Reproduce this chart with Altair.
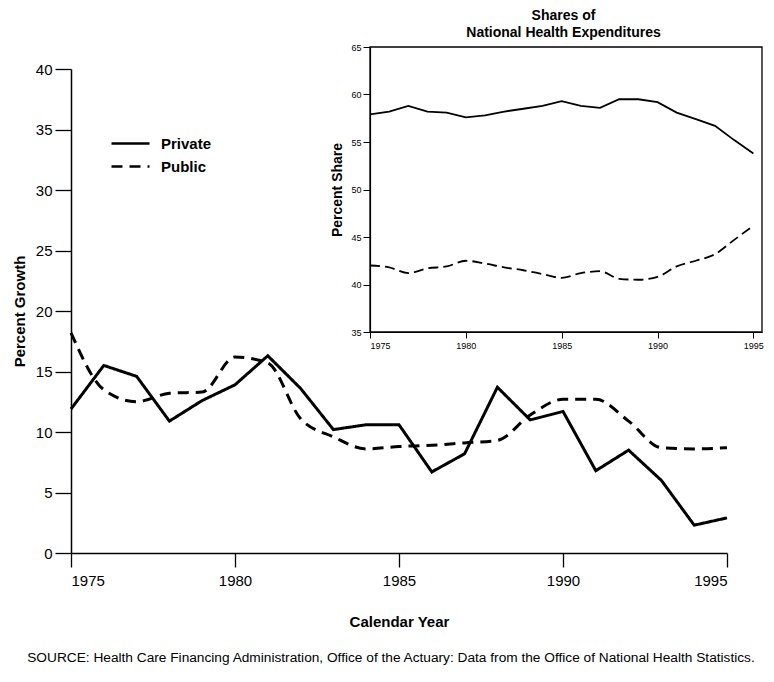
import altair as alt
import pandas as pd

years = [1975, 1976, 1977, 1978, 1979, 1980, 1981, 1982, 1983, 1984, 1985,
         1986, 1987, 1988, 1989, 1990, 1991, 1992, 1993, 1994, 1995]
private_growth = [11.9, 15.5, 14.6, 10.9, 12.6, 13.9, 16.3, 13.6, 10.2, 10.6, 10.6,
                  6.7, 8.2, 13.7, 11.0, 11.7, 6.8, 8.5, 6.0, 2.3, 2.9]
public_growth = [18.2, 13.5, 12.5, 13.2, 13.3, 16.2, 15.7, 11.1, 9.6, 8.6, 8.8,
                 8.9, 9.1, 9.3, 11.4, 12.7, 12.7, 10.9, 8.7, 8.6, 8.7]
private_share = [57.9, 58.2, 58.8, 58.2, 58.1, 57.6, 57.8, 58.2, 58.5, 58.8, 59.3,
                 58.8, 58.6, 59.5, 59.5, 59.2, 58.1, 57.4, 56.7, 55.2, 53.8]
public_share = [42.0, 41.8, 41.2, 41.7, 41.9, 42.5, 42.2, 41.8, 41.5, 41.1, 40.7,
                41.2, 41.4, 40.6, 40.5, 40.8, 41.9, 42.5, 43.2, 44.7, 46.2]
series = ["Private", "Public"]
year_ticks = [1975, 1980, 1985, 1990, 1995]
growth_ticks = [0, 5, 10, 15, 20, 25, 30, 35, 40]
share_ticks = [35, 40, 45, 50, 55, 60, 65]
inset_title = ["Shares of", "National Health Expenditures"]
source_note = ("SOURCE: Health Care Financing Administration, Office of the Actuary: "
               "Data from the Office of National Health Statistics.")

growth_df = pd.DataFrame({
    "year": years * 2,
    "growth": private_growth + public_growth,
    "series": [series[0]] * len(years) + [series[1]] * len(years),
})
share_df = pd.DataFrame({
    "year": years * 2,
    "share": private_share + public_share,
    "series": [series[0]] * len(years) + [series[1]] * len(years),
})
frame_df = pd.DataFrame({"x": [1975], "x2": [1995.45], "y": [35], "y2": [65]})

FONT = "Liberation Sans"
W, H = 691, 506

# ---- main chart scales / axes ----
mx = alt.Scale(domain=[1975, 1995], range=[0, 656], nice=False, zero=False)
my = alt.Scale(domain=[0, 40], range=[H, 22], nice=False)
dash_scale = alt.Scale(domain=series, range=[[1, 0], [11, 7]])

main_x_axis = alt.Axis(values=year_ticks, format="d", title="Calendar Year",
                       tickSize=14, labelPadding=6, labelFontSize=15,
                       titleFontSize=15, titleFontWeight="bold", titlePadding=26,
                       domainWidth=1.5, tickWidth=1.3, labelFont=FONT, titleFont=FONT,
                       domainColor="black", tickColor="black", labelColor="black",
                       titleColor="black", grid=False)
main_y_axis = alt.Axis(values=growth_ticks, title="Percent Growth",
                       tickSize=16, labelPadding=3, labelFontSize=15,
                       titleFontSize=15, titleFontWeight="bold", titlePadding=8,
                       domainWidth=1.5, tickWidth=1.3, labelFont=FONT, titleFont=FONT,
                       domainColor="black", tickColor="black", labelColor="black",
                       titleColor="black", grid=False)
dash_enc = alt.StrokeDash("series:N", scale=dash_scale,
                          legend=alt.Legend(title=None, orient="none", legendX=39, legendY=86,
                                            symbolType="stroke", symbolSize=1444,
                                            symbolStrokeWidth=2.5, symbolStrokeColor="black",
                                            clipHeight=21, rowPadding=2, labelOffset=10,
                                            labelFontSize=15, labelFontWeight="bold",
                                            labelFont=FONT, labelColor="black", padding=0))

main_priv = alt.Chart(growth_df).transform_filter(
    alt.datum.series == series[0]
).mark_line(color="black", strokeWidth=3).encode(
    x=alt.X("year:Q", scale=mx, axis=main_x_axis),
    y=alt.Y("growth:Q", scale=my, axis=main_y_axis),
    strokeDash=dash_enc)

main_pub = alt.Chart(growth_df).transform_filter(
    alt.datum.series == series[1]
).mark_line(color="black", strokeWidth=3, interpolate="monotone").encode(
    x=alt.X("year:Q", scale=mx, axis=None),
    y=alt.Y("growth:Q", scale=my, axis=None),
    strokeDash=dash_enc)

source = alt.Chart(pd.DataFrame({"t": [source_note]})).mark_text(
    font=FONT, fontSize=13.7, color="black", align="center", baseline="middle"
).encode(text="t:N", x=alt.value(320), y=alt.value(611))

# ---- inset ----
ix = alt.Scale(domain=[1975, 1995.45], range=[299, 691], nice=False, zero=False)
iy = alt.Scale(domain=[35, 65], range=[285, 0], nice=False, zero=False)

inset_x_axis = alt.Axis(orient="bottom", offset=-(H - 285), values=year_ticks, format="d",
                        title=None, tickSize=6, labelPadding=3, labelFontSize=9,
                        labelFont=FONT, domainColor="black", tickColor="black",
                        labelColor="black", grid=False, domainWidth=1.2)
inset_y_axis = alt.Axis(orient="left", offset=-299, values=share_ticks,
                        title="Percent Share", tickSize=7, labelPadding=2, labelFontSize=9,
                        titleFontSize=14, titleFontWeight="bold", titlePadding=6,
                        labelFont=FONT, titleFont=FONT, domainColor="black",
                        tickColor="black", labelColor="black", titleColor="black",
                        grid=False, domainWidth=1.2)

frame = alt.Chart(frame_df).mark_rect(fillOpacity=0, stroke="black", strokeWidth=1.3).encode(
    x=alt.X("x:Q", scale=ix, axis=None), x2="x2:Q",
    y=alt.Y("y:Q", scale=iy, axis=None), y2="y2:Q")

in_priv = alt.Chart(share_df).transform_filter(
    alt.datum.series == series[0]
).mark_line(color="black", strokeWidth=1.8).encode(
    x=alt.X("year:Q", scale=ix, axis=inset_x_axis),
    y=alt.Y("share:Q", scale=iy, axis=inset_y_axis))

in_pub = alt.Chart(share_df).transform_filter(
    alt.datum.series == series[1]
).mark_line(color="black", strokeWidth=1.8, strokeDash=[10, 5], interpolate="monotone").encode(
    x=alt.X("year:Q", scale=ix, axis=None), y=alt.Y("share:Q", scale=iy, axis=None))

chart = alt.layer(main_priv, main_pub, frame, in_priv, in_pub, source).resolve_scale(
    x="independent", y="independent", strokeDash="shared"
).properties(
    width=W, height=H,
    background="white",
    autosize=alt.AutoSizeParams(type="none"),
    padding={"left": 63, "top": 39, "right": 4, "bottom": 125},
    title=alt.TitleParams(text=inset_title, anchor="middle", frame="group", dx=147,
                          fontSize=14, fontWeight="bold", font=FONT, color="black",
                          lineHeight=17, offset=3),
).configure_view(strokeWidth=0, stroke="transparent")

chart.save("out.html", embed_options={"renderer": "svg", "actions": False})
